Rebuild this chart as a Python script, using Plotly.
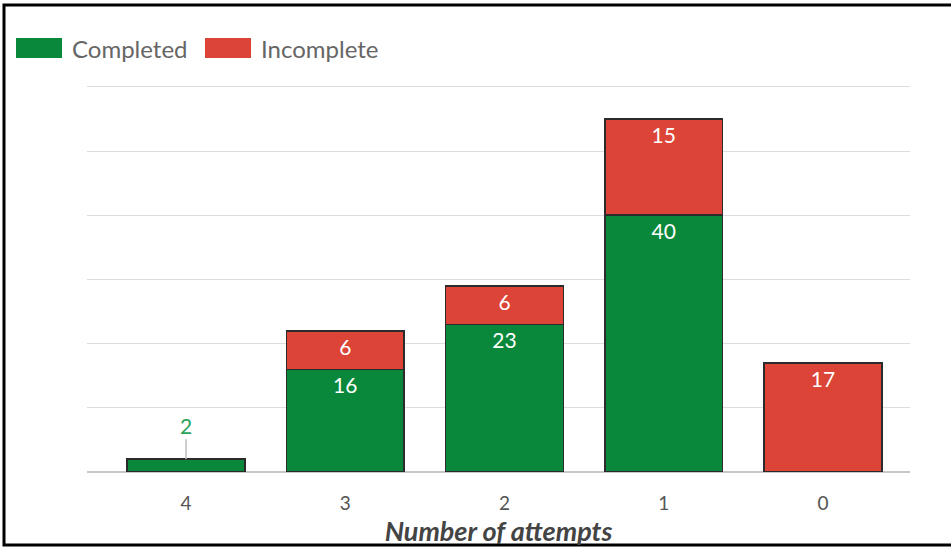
import plotly.graph_objects as go

# Attempt counts, shown from most attempts to fewest
categories = ["4", "3", "2", "1", "0"]
completed = [2, 16, 23, 40, 0]
incomplete = [0, 6, 6, 15, 17]

GREEN = "#09883b"
RED = "#db4437"
EDGE = "#2b2b2b"
FONT = "Lato"

# Figure geometry (pixels); 60 units span 385 px
W, H = 951, 547
YMAX = 62
ML, MR, MB = 87, 41, 75
PH = round(385 / 60 * YMAX)
MT = H - MB - PH
PW = W - ML - MR


def px_x(p):
    return (p - ML) / PW


def px_y(p):
    return (H - MB - p) / PH


def inside_labels(vals):
    return [str(v) if v >= 5 else "" for v in vals]


fig = go.Figure()
fig.add_trace(go.Bar(
    x=categories, y=completed, name="Completed",
    marker=dict(color=GREEN, line=dict(color=EDGE, width=1.5)),
    width=0.74,
    text=inside_labels(completed), textposition="inside",
    insidetextanchor="end", textangle=0,
    textfont=dict(family=FONT, size=21, color="white"),
    showlegend=False, hoverinfo="skip",
))
fig.add_trace(go.Bar(
    x=categories, y=incomplete, name="Incomplete",
    marker=dict(color=RED, line=dict(color=EDGE, width=1.5)),
    width=0.74,
    text=inside_labels(incomplete), textposition="inside",
    insidetextanchor="end", textangle=0,
    textfont=dict(family=FONT, size=21, color="white"),
    showlegend=False, hoverinfo="skip",
))

# Small segments get their label above, with a leader line
annotations = []
for i, v in enumerate(completed):
    if 0 < v < 5:
        annotations.append(dict(
            x=i, y=v, xref="x", yref="y", text=str(v),
            showarrow=True, arrowhead=0, arrowwidth=1.5, arrowcolor="#bdbdbd",
            ax=0, ay=-34, font=dict(family=FONT, size=21, color="#2aa35a"),
        ))

# Custom legend with wide rounded swatches
legend_items = [("Completed", GREEN, 16, 70), ("Incomplete", RED, 205, 259)]
shapes = []
for label, color, sx, tx in legend_items:
    shapes.append(dict(
        type="rect", xref="paper", yref="paper",
        x0=px_x(sx), x1=px_x(sx + 46), y0=px_y(58), y1=px_y(38),
        fillcolor=color, line=dict(width=0), layer="above",
    ))
    annotations.append(dict(
        x=px_x(tx), y=px_y(48), xref="paper", yref="paper",
        text=label, showarrow=False, xanchor="left", yanchor="middle",
        font=dict(family=FONT, size=24, color="#666666"),
    ))

# Frame around the chart (open on the right side)
L, T, B, R = px_x(4), px_y(5), px_y(545), px_x(970)
shapes.append(dict(
    type="path", xref="paper", yref="paper",
    path=f"M {R},{T} L {L},{T} L {L},{B} L {R},{B}",
    line=dict(color="black", width=3),
))

fig.update_layout(
    width=W, height=H,
    margin=dict(l=ML, r=MR, t=MT, b=MB),
    barmode="stack",
    plot_bgcolor="white", paper_bgcolor="white",
    font=dict(family=FONT, color="#555555"),
    shapes=shapes, annotations=annotations,
    showlegend=False,
    xaxis=dict(
        type="category", categoryorder="array", categoryarray=categories,
        range=[-0.622, 4.546], showgrid=False, showline=False,
        ticks="outside", ticklen=14, tickcolor="rgba(0,0,0,0)",
        tickfont=dict(family=FONT, size=19, color="#555555"),
        title=dict(text="<b><i>Number of attempts</i></b>",
                   font=dict(family=FONT, size=27, color="#444444"), standoff=2),
    ),
    yaxis=dict(
        range=[0, YMAX], tickvals=[10, 20, 30, 40, 50, 60], showticklabels=False,
        showgrid=True, gridcolor="#dcdcdc", gridwidth=1,
        zeroline=True, zerolinecolor="#c8c8c8", zerolinewidth=1.5,
        fixedrange=True,
    ),
)

fig.write_html("out.html")
